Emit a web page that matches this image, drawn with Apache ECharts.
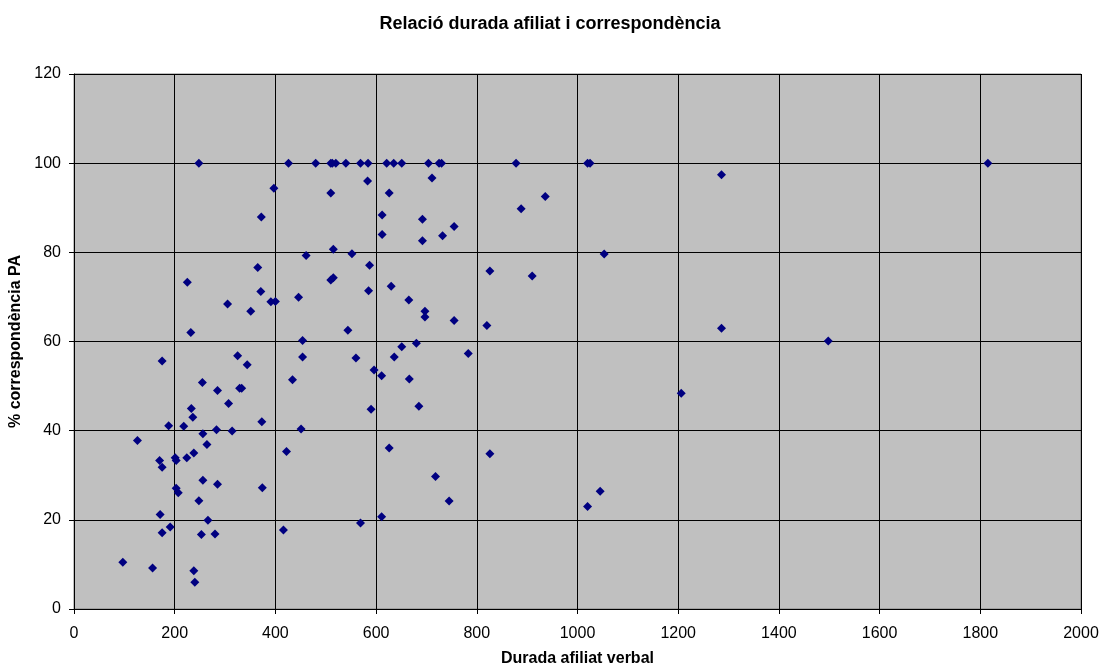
<!DOCTYPE html>
<html>
<head>
<meta charset="utf-8">
<script src="https://cdn.jsdelivr.net/npm/echarts@6/dist/echarts.min.js"></script>
<style>
html,body{margin:0;padding:0;background:#fff;}
#chart{width:1100px;height:666px;}
</style>
</head>
<body>
<div id="chart"></div>
<script>
const titleText = "Relació durada afiliat i correspondència";
const xAxisName = "Durada afiliat verbal";
const yAxisName = "% correspondència PA";

const durada = [
  248, 426, 480, 510, 513, 520, 540, 569, 584, 621, 635, 651, 704, 725, 730, 878, 1020, 1025, 1815,
  1286, 936, 1053, 1286, 583, 711, 510, 626, 888, 612, 692, 755, 612, 732, 692, 515, 461, 552, 587,
  826, 910, 510, 515, 585, 630, 665, 697, 697, 755, 544, 820, 454, 454, 560, 651, 680, 636, 783, 596,
  611, 666, 590, 685, 451, 626, 826, 718, 745, 611, 569, 1206, 1045, 1020, 1498,
  397, 372, 365, 225, 371, 446, 305, 351, 391, 400, 232, 175, 325, 344, 434, 255,
  285, 329, 333, 307, 233, 236, 373, 188, 218, 126, 256, 283, 314, 264, 422, 238, 224, 201, 203,
  170, 175, 256, 285, 374, 203, 207, 248, 171, 266, 191, 175, 253, 280, 416, 97, 156, 238, 240
];
const correspondencia = [
  100, 100, 100, 100, 100, 100, 100, 100, 100, 100, 100, 100, 100, 100, 100, 100, 100, 100, 100,
  97.4, 92.5, 79.6, 63.0, 96.0, 96.7, 93.3, 93.3, 89.8, 88.4, 87.4, 85.8, 84.0, 83.7, 82.6, 80.7, 79.3, 79.7, 77.1,
  75.8, 74.7, 73.8, 74.3, 71.4, 72.4, 69.3, 66.8, 65.5, 64.7, 62.5, 63.6, 60.2, 56.5, 56.3, 58.8, 59.6, 56.5, 57.3, 53.6,
  52.3, 51.6, 44.8, 45.5, 40.4, 36.1, 34.8, 29.7, 24.2, 20.7, 19.3, 48.4, 26.4, 23.0, 60.1,
  94.4, 87.9, 76.6, 73.3, 71.2, 69.9, 68.4, 66.8, 68.9, 69.0, 62.0, 55.6, 56.8, 54.8, 51.4, 50.8,
  49.0, 49.5, 49.5, 46.1, 45.0, 43.0, 42.0, 41.1, 41.0, 37.8, 39.3, 40.2, 39.9, 36.9, 35.3, 35.0, 33.9, 33.9, 33.3,
  33.3, 31.8, 28.9, 28.0, 27.2, 27.1, 26.1, 24.3, 21.2, 19.9, 18.4, 17.1, 16.7, 16.8, 17.7, 10.5, 9.2, 8.6, 6.0
];

const points = durada.map((d, i) => [d, correspondencia[i]]);

const font = "'Liberation Sans', Arial, sans-serif";
const chart = echarts.init(document.getElementById('chart'), null, {renderer: 'canvas'});
chart.setOption({
  animation: false,
  backgroundColor: '#ffffff',
  title: {
    text: titleText,
    left: 'center',
    top: 10,
    textStyle: {fontFamily: font, fontSize: 18, fontWeight: 'bold', color: '#000'}
  },
  grid: {
    left: 74, right: 19, top: 74, bottom: 57,
    containLabel: false,
    outerBoundsMode: 'none',
    show: true,
    backgroundColor: '#C0C0C0',
    borderColor: '#808080',
    borderWidth: 1
  },
  xAxis: {
    type: 'value',
    min: 0, max: 2000, interval: 200,
    name: xAxisName,
    nameLocation: 'middle',
    nameGap: 42,
    nameTextStyle: {fontFamily: font, fontSize: 16, fontWeight: 'bold', color: '#000'},
    axisLine: {show: true, onZero: false, lineStyle: {color: '#000', width: 1}},
    axisTick: {show: true, length: 5, lineStyle: {color: '#000'}},
    axisLabel: {fontFamily: font, fontSize: 16, color: '#000', margin: 17, formatter: v => String(v)},
    splitLine: {show: true, lineStyle: {color: '#000', width: 1}}
  },
  yAxis: {
    type: 'value',
    min: 0, max: 120, interval: 20,
    name: yAxisName,
    nameLocation: 'middle',
    nameGap: 45,
    nameRotate: 90,
    nameTextStyle: {fontFamily: font, fontSize: 16, fontWeight: 'bold', color: '#000'},
    axisLine: {show: true, onZero: false, lineStyle: {color: '#000', width: 1}},
    axisTick: {show: true, length: 5, lineStyle: {color: '#000'}},
    axisLabel: {fontFamily: font, fontSize: 16, color: '#000', margin: 13, formatter: v => String(v)},
    splitLine: {show: true, lineStyle: {color: '#000', width: 1}}
  },
  series: [{
    type: 'scatter',
    data: points,
    symbol: 'diamond',
    symbolSize: 9,
    itemStyle: {color: '#000080', opacity: 1}
  }]
});
</script>
</body>
</html>
